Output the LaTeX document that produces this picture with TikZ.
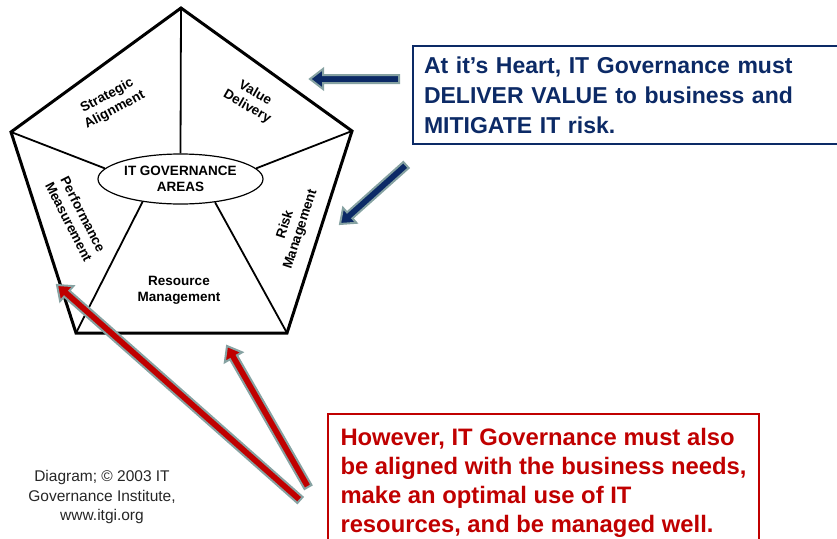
\documentclass[tikz,border=0pt]{standalone}
\usepackage{fontspec}
\setmainfont{Liberation Sans}
\usetikzlibrary{calc,shapes.geometric}
\definecolor{itnavy}{HTML}{0C2A66}
\definecolor{itred}{HTML}{C00000}
\definecolor{itrim}{HTML}{86A2A2}
% block arrow: #1 style, #2 tail, #3 tip
\newcommand{\fatarrow}[3]{%
\path ($(#3)!13pt!(#2)$) coordinate (fa-m);
\filldraw[#1] ($(#2)!4pt!90:(#3)$) -- ($(fa-m)!4pt!90:(#3)$) -- ($(fa-m)!10pt!90:(#3)$) -- (#3)
  -- ($(fa-m)!10pt!-90:(#3)$) -- ($(fa-m)!4pt!-90:(#3)$) -- ($(#2)!4pt!-90:(#3)$) -- cycle;}

\begin{document}
\begin{tikzpicture}[x=1pt,y=-1pt,
  area/.style={font=\bfseries\fontsize{13.5}{16}\selectfont, align=center, inner sep=0pt},
  spoke/.style={line width=1.8pt}]
\useasboundingbox (0,0) rectangle (837,538);
\coordinate (top) at (181,8);
\coordinate (rt) at (352,131);
\coordinate (br) at (287,333);
\coordinate (bl) at (76,333);
\coordinate (lt) at (11,132);
\draw[line width=3pt] (top) -- (rt) -- (br) -- (bl) -- (lt) -- cycle;
\node[draw, ellipse, line width=1.2pt, minimum width=165pt, minimum height=50pt, inner sep=0pt,
  font=\bfseries\fontsize{13.5}{16.5}\selectfont, align=center] (hub) at (180.5,179) {IT GOVERNANCE\\AREAS};
\draw[spoke] (hub.north) -- (top);
\draw[spoke] (hub.172) -- (lt);
\draw[spoke] (hub.8) -- (rt);
\draw[spoke] (hub.211) -- (bl);
\draw[spoke] (hub.326) -- (br);
\node[area, rotate=28] (strat) at (111,103) {Strategic\\Alignment};
\node[area, rotate=-30] (value) at (251,100) {Value\\Delivery};
\node[area, rotate=72] (risk) at (293,227) {Risk\\Management};
\node[area, rotate=-63] (perf) at (76,218) {Performance\\Measurement};
\node[area] (res) at (179,290) {Resource\\Management};
\node[draw=itnavy, line width=2pt, text=itnavy, font=\bfseries\fontsize{23}{30}\selectfont, align=left,
  anchor=north west, minimum height=98pt, text width=430pt, inner xsep=11pt] (heart) at (412,45)
  {At it’s Heart, IT Governance must\\DELIVER VALUE to business and\\MITIGATE IT risk.};
\node[draw=itred, line width=2pt, text=itred, font=\bfseries\fontsize{23.8}{29}\selectfont, align=left,
  anchor=north west, minimum width=431pt, inner ysep=14pt] (aside) at (327,413)
  {However, IT Governance must also\\be aligned with the business needs,\\make an optimal use of IT\\resources, and be managed well.};
\node[font=\fontsize{15.5}{19.5}\selectfont, align=center, text=black!85] (credit) at (102,497)
  {Diagram; © 2003 IT\\Governance Institute,\\www.itgi.org};
% arrows
\coordinate (valtail) at (399,79);
\coordinate (valtip) at (310,79);
\coordinate (risktail) at (406,165);
\coordinate (risktip) at (340,224);
\coordinate (perftail) at (300,500);
\coordinate (perftip) at (57,285);
\coordinate (restail) at (308,487);
\coordinate (restip) at (227,346);
\fatarrow{fill=itnavy, draw=itrim, line width=2pt}{valtail}{valtip}
\fatarrow{fill=itnavy, draw=itrim, line width=2pt}{risktail}{risktip}
\fatarrow{fill=itred, draw=itrim, line width=2pt}{perftail}{perftip}
\fatarrow{fill=itred, draw=itrim, line width=2pt}{restail}{restip}
\end{tikzpicture}
\end{document}
